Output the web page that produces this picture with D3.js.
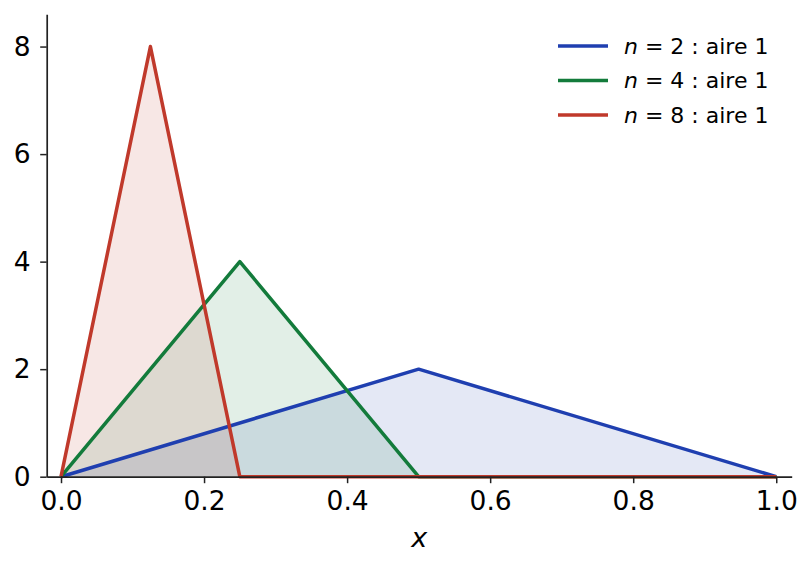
<!DOCTYPE html>
<html>
<head>
<meta charset="utf-8">
<script src="https://cdn.jsdelivr.net/npm/d3@7"></script>
<style>
  body { margin: 0; background: #fff; }
  text { font-family: "DejaVu Sans", sans-serif; fill: #000; }
</style>
</head>
<body>
<div id="chart"></div>
<script>
// data: triangle functions f_n, each with area 1
var seriesN = [2, 4, 8];
var xsN2 = [0, 0.5, 1.0];
var ysN2 = [0, 2, 0];
var xsN4 = [0, 0.25, 0.5, 1.0];
var ysN4 = [0, 4, 0, 0];
var xsN8 = [0, 0.125, 0.25, 1.0];
var ysN8 = [0, 8, 0, 0];
var seriesColors = ["#1f3fb0", "#137b3b", "#c0392b"];
var legendLabels = ["= 2 : aire 1", "= 4 : aire 1", "= 8 : aire 1"];
var xTicks = [0, 0.2, 0.4, 0.6, 0.8, 1.0];
var yTicks = [0, 2, 4, 6, 8];

var svgWidth = 812;
var svgHeight = 569;

var svg = d3.select("#chart")
  .append("svg")
  .attr("width", svgWidth)
  .attr("height", svgHeight);

var xScale = d3.scaleLinear()
  .domain([-0.02, 1.0216])
  .range([46.7, 791.7]);

var yScale = d3.scaleLinear()
  .domain([0, 8.6])
  .range([476.7, 14.3]);

var series = [
  { xs: xsN2, ys: ysN2 },
  { xs: xsN4, ys: ysN4 },
  { xs: xsN8, ys: ysN8 }
].map(function(s, i) {
  return {
    n: seriesN[i],
    color: seriesColors[i],
    pts: s.xs.map(function(x, j) { return [x, s.ys[j]]; })
  };
});

var area = d3.area()
  .x(d => xScale(d[0]))
  .y0(yScale(0))
  .y1(d => yScale(d[1]));

var line = d3.line()
  .x(d => xScale(d[0]))
  .y(d => yScale(d[1]));

// fills first (below all lines)
svg.append("g").selectAll("path")
  .data(series)
  .enter()
  .append("path")
  .attr("d", d => area(d.pts))
  .attr("fill", d => d.color)
  .attr("fill-opacity", 0.12);

svg.append("g").selectAll("path")
  .data(series)
  .enter()
  .append("path")
  .attr("d", d => line(d.pts))
  .attr("fill", "none")
  .attr("stroke", d => d.color)
  .attr("stroke-width", 3.5)
  .attr("stroke-linejoin", "round");

// axes
var xAxis = d3.axisBottom(xScale)
  .tickValues(xTicks)
  .tickFormat(d3.format(".1f"))
  .tickSizeInner(6.5)
  .tickSizeOuter(0)
  .tickPadding(8);

var yAxis = d3.axisLeft(yScale)
  .tickValues(yTicks)
  .tickFormat(d3.format("d"))
  .tickSizeInner(6.5)
  .tickSizeOuter(0)
  .tickPadding(9.5);

var gx = svg.append("g")
  .attr("transform", `translate(0, ${yScale(0)})`)
  .call(xAxis);

var gy = svg.append("g")
  .attr("transform", `translate(${xScale(-0.02)}, 0)`)
  .call(yAxis);

[gx, gy].forEach(function(g) {
  g.attr("font-size", 26.5).attr("font-family", "DejaVu Sans");
  g.select(".domain").attr("stroke", "#222").attr("stroke-width", 1.7);
  g.selectAll(".tick line").attr("stroke", "#222").attr("stroke-width", 1.5);
  g.selectAll(".tick text").attr("fill", "#000");
});

// x label
svg.append("text")
  .attr("x", (xScale.range()[0] + xScale.range()[1]) / 2)
  .attr("y", 547)
  .attr("text-anchor", "middle")
  .attr("font-style", "italic")
  .attr("font-size", 27)
  .text("x");

// legend
var legend = svg.append("g")
  .attr("transform", "translate(558, 46)");

var items = legend.selectAll("g")
  .data(series)
  .enter()
  .append("g")
  .attr("transform", (d, i) => `translate(0, ${i * 34.5})`);

items.append("line")
  .attr("x1", 0)
  .attr("x2", 50)
  .attr("stroke", d => d.color)
  .attr("stroke-width", 3.5);

var labels = items.append("text")
  .attr("x", 66)
  .attr("dy", "0.36em")
  .attr("font-size", 22);

labels.append("tspan")
  .attr("font-style", "italic")
  .text("n");

labels.append("tspan")
  .text((d, i) => " " + legendLabels[i]);
</script>
</body>
</html>
